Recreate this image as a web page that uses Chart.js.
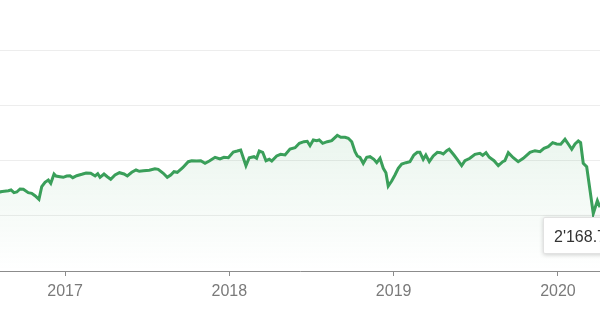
<!DOCTYPE html>
<html>
<head>
<meta charset="utf-8">
<script src="https://cdn.jsdelivr.net/npm/chart.js@4/dist/chart.umd.min.js"></script>
<style>
  html, body { margin: 0; padding: 0; background: #fff; overflow: hidden; }
  #wrap { position: relative; width: 600px; height: 315px; overflow: hidden; }
  #tip {
    position: absolute; left: 543px; top: 217px; width: 90px; height: 37px;
    background: #fff; border: 1px solid #e2e2e2; border-radius: 2px;
    box-shadow: 0 1px 4px rgba(0,0,0,0.18);
    font: 16px "Liberation Sans", Arial, sans-serif; color: #333;
    line-height: 37px; padding-left: 10px; white-space: nowrap; box-sizing: border-box;
  }
</style>
</head>
<body>
<div id="wrap">
  <canvas id="c" width="600" height="315"></canvas>
  <div id="tip"></div>
</div>
<script>
// decimal-year positions of the samples
const dates = [2016.598,2016.604,2016.655,2016.671,2016.689,2016.706,2016.726,2016.746,2016.776,2016.797,2016.817,2016.841,2016.858,2016.878,2016.898,2016.913,2016.933,2016.945,2016.969,2016.989,
2017.010,2017.030,2017.047,2017.071,2017.102,2017.128,2017.156,2017.183,2017.199,2017.213,2017.237,2017.257,2017.278,2017.304,2017.331,2017.359,2017.379,2017.406,2017.432,2017.452,2017.477,2017.513,
2017.547,2017.567,2017.598,2017.622,2017.643,2017.663,2017.683,2017.716,2017.750,2017.771,2017.801,2017.826,2017.852,2017.878,2017.913,2017.943,2017.967,2017.994,
2018.024,2018.048,2018.069,2018.101,2018.121,2018.150,2018.166,2018.182,2018.203,2018.223,2018.243,2018.258,2018.288,2018.312,2018.339,2018.369,2018.400,2018.426,
2018.454,2018.474,2018.491,2018.511,2018.532,2018.547,2018.568,2018.596,2018.623,2018.657,2018.678,2018.704,2018.724,2018.745,2018.765,2018.779,2018.795,2018.815,2018.836,2018.856,2018.880,2018.897,2018.917,2018.937,2018.953,2018.967,2018.988,
2019.008,2019.028,2019.049,2019.075,2019.099,2019.123,2019.144,2019.160,2019.180,2019.196,2019.217,2019.241,2019.266,2019.286,2019.302,2019.323,2019.338,
2019.367,2019.387,2019.414,2019.434,2019.464,2019.495,2019.525,2019.542,2019.562,2019.582,2019.611,2019.637,2019.664,2019.677,2019.698,2019.728,2019.758,2019.789,2019.830,2019.860,2019.891,2019.915,2019.941,2019.968,2019.992,
2020.017,2020.043,2020.063,2020.084,2020.104,2020.124,2020.138,2020.154,2020.175,2020.195,2020.215,2020.240,2020.256,2020.262];

const values = [2257,2258.8,2263.4,2266.5,2254.3,2257.5,2271,2269.7,2254.3,2251.6,2240.7,2224.4,2281.5,2301.4,2311.8,2296.8,2338.9,2329.9,2326.7,2324,
2329.9,2331.2,2322.2,2331.2,2337.6,2343.5,2342.1,2329.9,2340.3,2324,2338.9,2326.7,2314.9,2334.4,2344.8,2338.9,2329.9,2346.6,2357,2351.1,2353.9,2355.7,
2362.9,2360.2,2342.1,2324,2334.4,2349.3,2346.6,2367.4,2394.6,2399.1,2397.8,2399.1,2387.3,2397.8,2414.5,2406.8,2414.5,2412.7,
2438.5,2443,2447.5,2376.5,2412.7,2417.2,2410,2443,2437.1,2399.1,2405.4,2397.8,2420.4,2428.1,2424.9,2452,2457.9,2477.8,
2485.1,2486.9,2467,2492.8,2489.6,2492.8,2477.8,2485.1,2489.6,2514,2505,2505,2500.5,2485.1,2439.8,2420.4,2414.5,2387.3,2414.5,2417.2,2405.4,2390.1,2410,2364.7,2344.8,2284.6,2307.3,
2334.4,2364.7,2384.2,2390.1,2394.6,2424.9,2437.1,2437.1,2405.4,2424.9,2394.6,2420.4,2437.1,2435.3,2429.4,2444.4,2450.7,
2424.9,2405.4,2376.5,2399.1,2410,2428.1,2432.6,2423.5,2435.3,2414.5,2399.1,2376.5,2394.6,2399.1,2435.3,2412.7,2394.6,2410,2437.1,2444.4,2439.8,2455.2,2462.5,2480.6,2474.7,
2473.3,2496,2474.7,2450.7,2474.7,2488.3,2480.6,2387.3,2372,2266.5,2160,2218.1,2188.2,2195];

const yearTicks = [2017, 2018, 2019, 2020];
const tooltipText = "2'168.74";

document.getElementById('tip').textContent = tooltipText;

const points = dates.map((d, i) => ({ x: d, y: values[i] }));
const FONT = '"Liberation Sans", Arial, sans-serif';

new Chart(document.getElementById('c'), {
  type: 'line',
  data: {
    datasets: [{
      data: points,
      borderColor: '#3a9f5a',
      borderWidth: 3,
      pointRadius: 0,
      tension: 0,
      fill: 'start',
      backgroundColor: (ctx) => {
        const ca = ctx.chart.chartArea;
        if (!ca) return 'rgba(55,160,89,0.06)';
        const g = ctx.chart.ctx.createLinearGradient(0, 135, 0, ca.bottom);
        g.addColorStop(0, 'rgba(55,160,89,0.10)');
        g.addColorStop(1, 'rgba(55,160,89,0.0)');
        return g;
      }
    }]
  },
  options: {
    responsive: false,
    animation: false,
    events: [],
    layout: { padding: { top: 50, left: 0, right: 0, bottom: 0 } },
    plugins: { legend: { display: false }, tooltip: { enabled: false } },
    scales: {
      x: {
        type: 'linear',
        min: 2016.604,
        max: 2020.256,
        afterBuildTicks: (s) => { s.ticks = yearTicks.map(v => ({ value: v })); },
        afterFit: (s) => { s.height = 44; },
        grid: { drawOnChartArea: false, drawTicks: true, tickLength: 5, tickColor: '#8c8c8c', lineWidth: 1 },
        border: { display: true, color: '#8c8c8c', width: 1 },
        ticks: {
          color: '#7a7a7a',
          font: { family: FONT, size: 16 },
          padding: 6,
          maxRotation: 0,
          autoSkip: false,
          callback: (v) => String(v)
        }
      },
      y: {
        min: 1900,
        max: 2900,
        afterBuildTicks: (s) => { s.ticks = [1900, 2150, 2400, 2650, 2900].map(v => ({ value: v })); },
        afterFit: (s) => { s.width = 0; },
        grid: { color: '#ededed', drawTicks: false, lineWidth: 1 },
        border: { display: false },
        ticks: { display: false }
      }
    }
  }
});
</script>
</body>
</html>
